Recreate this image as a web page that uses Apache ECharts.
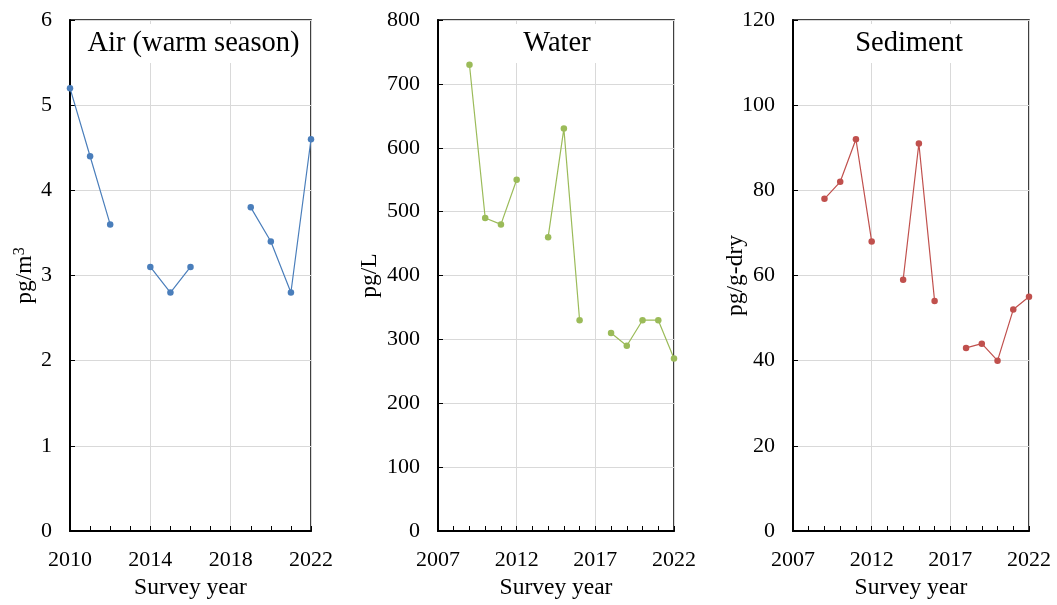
<!DOCTYPE html>
<html><head><meta charset="utf-8">
<script src="https://cdn.jsdelivr.net/npm/echarts@6/dist/echarts.min.js"></script>
<style>html,body{margin:0;padding:0;background:#fff}#c{width:1057px;height:605px}</style>
</head><body><div id="c"></div>
<script>
const airYears = [2010, 2011, 2012, 2013, 2014, 2015, 2016, 2017, 2018, 2019, 2020, 2021, 2022];
const airValues = [5.2, 4.4, 3.6, null, 3.1, 2.8, 3.1, null, null, 3.8, 3.4, 2.8, 4.6];
const waterYears = [2009, 2010, 2011, 2012, 2013, 2014, 2015, 2016, 2017, 2018, 2019, 2020, 2021, 2022];
const waterValues = [730, 490, 480, 550, null, 460, 630, 330, null, 310, 290, 330, 330, 270];
const sedYears = [2009, 2010, 2011, 2012, 2013, 2014, 2015, 2016, 2017, 2018, 2019, 2020, 2021, 2022];
const sedValues = [78, 82, 92, 68, null, 59, 91, 54, null, 43, 44, 40, 52, 55];
const titles = ['Air (warm season)', 'Water', 'Sediment'];
const yNames = ['{a|pg/m}{s|3}', '{a|pg/L}', '{a|pg/g-dry}'];
const xAxisName = 'Survey year';

const FONT = 'Liberation Serif';
function pairs(xs, vs) { return xs.map((x, i) => [x, vs[i] == null ? '-' : vs[i]]); }

const grids = [
  {left: 70, right: 746, top: 20, bottom: 73},
  {left: 438, right: 383, top: 20, bottom: 73},
  {left: 793, right: 28, top: 20, bottom: 73}
];
const titleCenters = [193.5, 557, 909];
const yNameGaps = [32, 55, 44];
const xCfg = [
  {min: 2010, max: 2022, interval: 4, split: 4},
  {min: 2007, max: 2022, interval: 5, split: 5},
  {min: 2007, max: 2022, interval: 5, split: 5}
];
const yCfg = [
  {min: 0, max: 6, interval: 1},
  {min: 0, max: 800, interval: 100},
  {min: 0, max: 120, interval: 20}
];
const colors = ['#4A7EBB', '#9BBB59', '#C0504D'];
const datasets = [pairs(airYears, airValues), pairs(waterYears, waterValues), pairs(sedYears, sedValues)];
const PAD = 8;

const option = {
  backgroundColor: '#fff',
  animation: false,
  textStyle: {fontFamily: FONT},
  grid: grids.map(g => Object.assign({show: true, borderColor: '#000', borderWidth: 1.5, backgroundColor: 'transparent', containLabel: false}, g)),
  title: titles.map((t, i) => ({
    text: t, left: titleCenters[i] - PAD, top: 24, textAlign: 'center',
    backgroundColor: '#fff', padding: [5, PAD, 5, PAD],
    textStyle: {fontFamily: FONT, fontSize: 28.5, fontWeight: 'normal', color: '#000'}
  })),
  xAxis: xCfg.map((c, i) => ({
    type: 'value', gridIndex: i, min: c.min, max: c.max, interval: c.interval,
    name: xAxisName, nameLocation: 'middle', nameGap: 45, nameMoveOverlap: false,
    nameTextStyle: {fontFamily: FONT, fontSize: 23.5, color: '#000'},
    axisLine: {show: true, onZero: false, lineStyle: {color: '#000', width: 2}},
    axisTick: {show: true, inside: true, length: 5, lineStyle: {color: '#000'}},
    minorTick: {show: true, splitNumber: c.split, length: 5, lineStyle: {color: '#000'}},
    axisLabel: {fontFamily: FONT, fontSize: 22, color: '#000', margin: 18, formatter: v => String(v)},
    splitLine: {show: true, lineStyle: {color: '#D9D9D9', width: 1}}
  })),
  yAxis: yCfg.map((c, i) => ({
    type: 'value', gridIndex: i, min: c.min, max: c.max, interval: c.interval,
    name: yNames[i], nameLocation: 'middle', nameGap: yNameGaps[i], nameMoveOverlap: false,
    nameTextStyle: {fontFamily: FONT, fontSize: 23.5, color: '#000',
      rich: {a: {fontFamily: FONT, fontSize: 23.5, color: '#000', lineHeight: 26},
             s: {fontFamily: FONT, fontSize: 16, color: '#000', lineHeight: 12, verticalAlign: 'top'}}},
    axisLine: {show: true, lineStyle: {color: '#000', width: 2}},
    axisTick: {show: true, inside: true, length: 5, lineStyle: {color: '#000'}},
    axisLabel: {fontFamily: FONT, fontSize: 22, color: '#000', margin: 18},
    splitLine: {show: true, lineStyle: {color: '#D9D9D9', width: 1}}
  })),
  series: datasets.map((d, i) => ({
    type: 'line', xAxisIndex: i, yAxisIndex: i, data: d,
    connectNulls: false, symbol: 'circle', symbolSize: 6.5,
    itemStyle: {color: colors[i]}, lineStyle: {color: colors[i], width: 1.2}, z: 3
  }))
};
echarts.init(document.getElementById('c'), null, {renderer: 'canvas'}).setOption(option);
</script></body></html>
